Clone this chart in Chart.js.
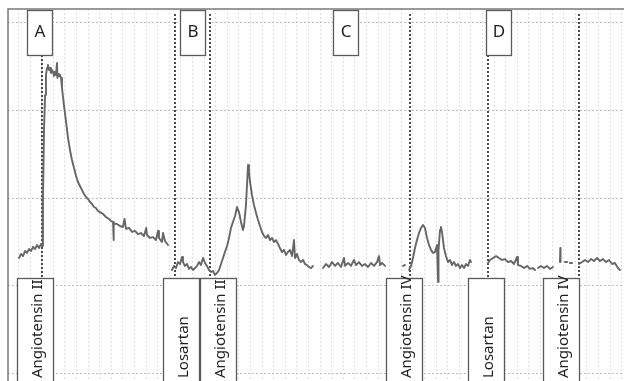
<!DOCTYPE html>
<html><head><meta charset="utf-8">
<script src="https://cdn.jsdelivr.net/npm/chart.js@4/dist/chart.umd.min.js"></script>
<style>html,body{margin:0;padding:0;background:#fff;overflow:hidden}#wrap{width:624px;height:381px;position:relative}</style>
</head><body><div id="wrap"><canvas id="c"></canvas></div>
<script>
// ---- data: time (min) and tension (mN) ----
const timeA = [1.03,1.21,1.38,1.55,1.72,1.90,2.07,2.24,2.41,2.59,2.76,2.93,3.02,3.10,3.19,3.28,3.36,3.45,3.53,3.62,3.71,3.79,3.88,3.97,4.05,4.14,4.22,4.31,4.35,4.40,4.48,4.57,4.66,4.74,4.91,5.09,5.26,5.43,5.60,5.78,5.95,6.12,6.29,6.47,6.64,6.81,6.98,7.16,7.33,7.50,7.67,7.84,8.02,8.28,8.53,8.79,8.97,9.14,9.18,9.22,9.48,9.74,10.00,10.13,10.26,10.52,10.78,11.03,11.29,11.55,11.81,12.00,12.07,12.33,12.59,12.84,13.02,13.10,13.36,13.45,13.62,13.88];
const valueA = [6.59,6.82,6.70,6.99,6.88,7.10,6.99,7.22,7.10,7.33,7.16,7.39,7.27,9.89,13.86,15.85,16.99,17.39,17.56,17.27,17.39,17.10,17.27,17.16,16.93,17.16,16.99,17.67,16.82,17.05,16.93,16.99,16.82,16.25,15.28,14.32,13.41,12.73,12.16,11.70,11.25,10.91,10.68,10.45,10.23,10.06,9.94,9.77,9.66,9.49,9.43,9.26,9.20,9.09,8.92,8.81,8.69,8.64,7.61,8.58,8.52,8.41,8.35,8.81,8.24,8.30,8.07,8.13,7.95,8.01,7.84,8.30,7.90,7.73,7.78,7.61,8.13,7.73,7.50,8.01,7.56,7.33];

const timeB = [14.22,14.40,14.57,14.74,14.91,15.09,15.17,15.34,15.52,15.69,15.86,16.03,16.21,16.38,16.55,16.72,16.90,17.07,17.24,17.41,17.59,17.76,17.93,18.10,18.28,18.45,18.62,18.79,18.97,19.14,19.31,19.48,19.66,19.83,20.00,20.17,20.34,20.43,20.60,20.69,20.78,20.86,20.95,21.12,21.29,21.47,21.64,21.81,21.98,22.16,22.33,22.50,22.67,22.84,23.02,23.19,23.36,23.53,23.71,23.88,24.05,24.22,24.40,24.57,24.74,24.83,25.00,25.17,25.34,25.52,25.69,25.86,26.03,26.21,26.38];
const valueB = [5.91,6.14,6.02,6.36,6.25,6.65,6.36,6.14,6.25,5.97,6.08,5.91,6.02,6.14,6.36,6.19,6.59,6.31,6.14,5.91,5.80,5.85,5.63,5.74,5.91,6.25,6.59,6.93,7.27,7.73,8.30,8.64,8.98,9.49,9.20,8.64,8.18,8.41,9.60,10.74,11.88,11.48,10.91,10.17,9.60,9.15,8.75,8.41,8.07,7.84,7.73,7.90,7.61,7.73,7.50,7.61,7.39,7.16,6.93,7.05,6.76,6.93,7.05,6.70,7.61,6.59,6.82,6.48,6.36,6.48,6.25,6.19,6.08,6.02,6.14];

const timeC1 = [27.24,27.50,27.76,28.02,28.28,28.53,28.79,29.05,29.14,29.40,29.66,29.91,30.09,30.34,30.60,30.86,31.12,31.38,31.64,31.90,32.07,32.16,32.33,32.59];
const valueC1 = [6.02,6.25,6.08,6.36,6.14,6.31,6.08,6.59,6.14,6.31,6.14,6.48,6.19,6.36,6.14,6.25,6.08,6.31,6.14,6.36,6.70,6.19,6.31,6.14];
const timeC0 = [34.14,34.31];
const valueC0 = [6.14,6.19];
const timeC2 = [34.66,34.83,35.00,35.17,35.34,35.52,35.69,35.86,36.03,36.21,36.38,36.55,36.72,36.90,37.07,37.16,37.20,37.33,37.41,37.50,37.67,37.84,38.02,38.19,38.36,38.53,38.71,38.88,39.05,39.22,39.40,39.57,39.74,39.91,40.00];
const valueC2 = [5.91,6.14,6.59,7.16,7.61,8.01,8.30,8.47,8.30,7.73,7.33,7.05,6.88,6.93,7.33,5.23,7.05,8.18,8.35,8.07,7.16,6.70,6.36,6.48,6.19,6.36,6.14,6.25,6.02,6.19,6.02,6.25,6.14,6.48,6.36];

const timeD1 = [41.47,41.64,41.90,42.16,42.41,42.67,42.93,43.19,43.45,43.71,43.97,44.05,44.31,44.57,44.83,45.09,45.34,45.52];
const valueD1 = [6.31,6.48,6.59,6.70,6.59,6.48,6.53,6.36,6.42,6.25,6.65,6.19,6.14,6.02,6.14,5.97,6.02,5.91];
const timeD2 = [45.78,46.03,46.29,46.55,46.81,47.07];
const valueD2 = [6.02,6.14,6.02,6.14,5.97,6.08];
const timeD3 = [47.67,47.70,47.72];
const valueD3 = [6.36,7.16,6.36];
const timeD4 = [48.10,48.28];
const valueD4 = [6.36,6.36];
const timeD5 = [48.53,48.71];
const valueD5 = [6.31,6.31];
const timeD6 = [49.31,49.57,49.83,50.09,50.34,50.60,50.86,51.12,51.38,51.64,51.90,52.16,52.41,52.67,52.84];
const valueD6 = [6.25,6.36,6.48,6.36,6.53,6.42,6.59,6.42,6.53,6.36,6.48,6.25,6.31,6.02,5.91];

// drug additions
const eventTimes  = [3.02, 14.48, 17.50, 34.74, 41.47, 49.31];
const eventLabels = ['Angiotensin II','Losartan','Angiotensin II','Angiotensin IV','Losartan','Angiotensin IV'];
const eventBoxStart = [0.86, 13.45, 16.64, 32.67, 39.74, 46.21];
// panels
const panelLetters = ['A','B','C','D'];
const panelBoxStart = [1.72, 14.91, 28.10, 41.29];
// grid ticks
const timeTicks = Array.from({length:53},(_,i)=>i+1);
const tensionTicks = [0,5,10,15,20];

const segments = [
  [timeA,valueA],[timeB,valueB],[timeC1,valueC1],[timeC0,valueC0],[timeC2,valueC2],
  [timeD1,valueD1],[timeD2,valueD2],[timeD3,valueD3],[timeD4,valueD4],[timeD5,valueD5],[timeD6,valueD6]
];
const datasets = segments.map(([t,v])=>({
  data: t.map((x,i)=>({x:x,y:v[i]})),
  borderColor:'#666666', borderWidth:1.9, pointRadius:0, tension:0, fill:false,
  borderJoinStyle:'round', borderCapStyle:'round'
}));

const PANEL_W = 2.16, BOX_W = 3.1;
const FONT = '"Noto Sans", "Open Sans", sans-serif';

const annot = {
  id:'annot',
  beforeDatasetsDraw(chart){
    const {ctx, chartArea:a, scales:{x}} = chart;
    ctx.save();
    ctx.strokeStyle='#4a4a4a'; ctx.lineWidth=2; ctx.setLineDash([2,2]);
    eventTimes.forEach(t=>{
      const px = Math.round(x.getPixelForValue(t));
      let top = a.top+5;
      panelBoxStart.forEach(s=>{ if(t>=s && t<=s+PANEL_W) top = a.top+46; });
      ctx.beginPath(); ctx.moveTo(px, top); ctx.lineTo(px, a.top+269); ctx.stroke();
    });
    ctx.restore();
  },
  afterDatasetsDraw(chart){
    const {ctx, chartArea:a, scales:{x}} = chart;
    ctx.save();
    ctx.setLineDash([]);
    panelLetters.forEach((L,i)=>{
      const x0 = Math.round(x.getPixelForValue(panelBoxStart[i]))+0.5;
      const x1 = Math.round(x.getPixelForValue(panelBoxStart[i]+PANEL_W))+0.5;
      const y0 = a.top+1.5, y1 = a.top+46.5;
      ctx.fillStyle='#fff'; ctx.fillRect(x0,y0,x1-x0,y1-y0);
      ctx.strokeStyle='#5a5a5a'; ctx.lineWidth=1.3; ctx.strokeRect(x0,y0,x1-x0,y1-y0);
      ctx.fillStyle='#1e1e1e'; ctx.font='17px '+FONT; ctx.textAlign='center'; ctx.textBaseline='alphabetic';
      ctx.fillText(L,(x0+x1)/2,a.top+28);
    });
    eventLabels.forEach((L,i)=>{
      const x0 = Math.round(x.getPixelForValue(eventBoxStart[i]))+0.5;
      const x1 = Math.round(x.getPixelForValue(eventBoxStart[i]+BOX_W))+0.5;
      const y0 = a.top+269.5, y1 = chart.height+5;
      ctx.fillStyle='#fff'; ctx.fillRect(x0,y0,x1-x0,y1-y0);
      ctx.strokeStyle='#5a5a5a'; ctx.lineWidth=1.3; ctx.strokeRect(x0,y0,x1-x0,y1-y0);
      ctx.save();
      ctx.translate(x0+24, a.top+369);
      ctx.rotate(-Math.PI/2);
      ctx.fillStyle='#1e1e1e'; ctx.font='15px '+FONT; ctx.textAlign='left'; ctx.textBaseline='alphabetic';
      ctx.fillText(L,0,0);
      ctx.restore();
    });
    ctx.restore();
  },
  afterDraw(chart){
    const {ctx, chartArea:a} = chart;
    ctx.save();
    ctx.strokeStyle='#7a7a7a'; ctx.lineWidth=1.5; ctx.setLineDash([]);
    ctx.beginPath();
    ctx.moveTo(chart.width, a.top); ctx.lineTo(a.left, a.top); ctx.lineTo(a.left, chart.height);
    ctx.stroke();
    ctx.restore();
  }
};

new Chart(document.getElementById('c'), {
  type:'line',
  data:{datasets},
  options:{
    responsive:true, maintainAspectRatio:false, animation:false, devicePixelRatio:1,
    layout:{padding:{left:8,top:9,right:0,bottom:0}},
    plugins:{legend:{display:false}, tooltip:{enabled:false}, title:{display:false}},
    scales:{
      x:{type:'linear', min:0.0862, max:53.19,
        afterBuildTicks:s=>{s.ticks=timeTicks.map(v=>({value:v}));},
        ticks:{display:false}, grid:{color:'#d4d4d4', lineWidth:1, drawTicks:false},
        border:{display:false, dash:[1.5,2.5]}},
      y:{type:'linear', min:-0.398, max:20.739,
        afterBuildTicks:s=>{s.ticks=tensionTicks.map(v=>({value:v}));},
        ticks:{display:false}, grid:{color:'#bdbdbd', lineWidth:1, drawTicks:false},
        border:{display:false, dash:[2,2]}}
    }
  },
  plugins:[annot]
});
</script></body></html>
